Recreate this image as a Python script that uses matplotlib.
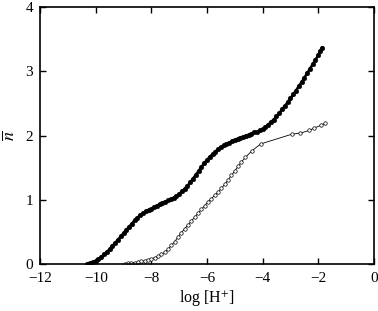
import numpy as np
import matplotlib
matplotlib.use("Agg")
import matplotlib.pyplot as plt

plt.rcParams['font.family'] = ['Liberation Serif', 'DejaVu Serif']
plt.rcParams['mathtext.fontset'] = 'stix'

# filled circles (dense series)
x_fill = [-10.3, -10.2, -10.1, -10.0, -9.9, -9.8, -9.7, -9.6, -9.5, -9.4, -9.3, -9.2,
          -9.1, -9.0, -8.9, -8.8, -8.7, -8.6, -8.5, -8.4, -8.3, -8.2, -8.1, -8.0,
          -7.9, -7.8, -7.7, -7.6, -7.5, -7.4, -7.3, -7.2, -7.1, -7.0, -6.9, -6.8,
          -6.7, -6.6, -6.5, -6.4, -6.3, -6.2, -6.1, -6.0, -5.9, -5.8, -5.7, -5.6,
          -5.5, -5.4, -5.3, -5.2, -5.1, -5.0, -4.9, -4.8, -4.7, -4.6, -4.5, -4.4,
          -4.3, -4.2, -4.1, -4.0, -3.9, -3.8, -3.7, -3.6, -3.5, -3.4, -3.3, -3.2,
          -3.1, -3.0, -2.9, -2.8, -2.7, -2.6, -2.5, -2.4, -2.3, -2.2, -2.1, -2.0,
          -1.93, -1.86]
y_fill = [0.00, 0.01, 0.03, 0.05, 0.08, 0.11, 0.15, 0.19, 0.23, 0.28, 0.33, 0.38,
          0.43, 0.48, 0.53, 0.58, 0.63, 0.68, 0.72, 0.76, 0.79, 0.82, 0.84, 0.86,
          0.89, 0.91, 0.93, 0.95, 0.97, 0.99, 1.01, 1.03, 1.06, 1.09, 1.13, 1.17,
          1.22, 1.27, 1.33, 1.39, 1.45, 1.51, 1.57, 1.62, 1.67, 1.71, 1.75, 1.79,
          1.82, 1.85, 1.87, 1.89, 1.91, 1.93, 1.95, 1.97, 1.98, 2.00, 2.01, 2.03,
          2.05, 2.06, 2.08, 2.10, 2.13, 2.17, 2.21, 2.25, 2.30, 2.35, 2.41, 2.46,
          2.52, 2.58, 2.64, 2.70, 2.77, 2.83, 2.90, 2.97, 3.04, 3.11, 3.18, 3.25,
          3.31, 3.37]

# open circles
x_open = [-8.96, -8.84, -8.72, -8.60, -8.48, -8.36, -8.24, -8.12, -8.00, -7.88,
          -7.76, -7.64, -7.52, -7.40, -7.28, -7.16, -7.04, -6.92, -6.80, -6.68,
          -6.56, -6.44, -6.32, -6.20, -6.08, -5.96, -5.84, -5.72, -5.60, -5.48,
          -5.36, -5.24, -5.12, -5.00, -4.88, -4.76, -4.62, -4.39, -4.07,
          -2.96, -2.64, -2.32, -2.14, -1.89, -1.75]
y_open = [0.00, 0.01, 0.02, 0.02, 0.03, 0.04, 0.05, 0.07, 0.08, 0.10,
          0.12, 0.15, 0.18, 0.23, 0.29, 0.35, 0.42, 0.49, 0.55, 0.61,
          0.67, 0.73, 0.79, 0.85, 0.91, 0.97, 1.02, 1.07, 1.12, 1.18,
          1.24, 1.31, 1.38, 1.45, 1.52, 1.59, 1.66, 1.76, 1.87,
          2.02, 2.04, 2.08, 2.12, 2.16, 2.19]

fig = plt.figure(figsize=(3.78, 3.11), dpi=100)
ax = fig.add_axes([0.106, 0.151, 0.883, 0.826])

ax.plot(x_fill, y_fill, color='black', lw=1.8, marker='o', ms=3.4,
        mfc='black', mec='black', mew=0.3)
ax.plot(x_open, y_open, color='black', lw=0.6, marker='o', ms=2.5,
        mfc='white', mec='black', mew=0.5)

ax.set_xlim(-12, 0)
ax.set_ylim(0, 4)
ax.set_xticks(np.arange(-12, 1, 2))
ax.set_yticks([0, 1, 2, 3, 4])
ax.tick_params(direction='in', length=4, width=1, top=True, right=True,
               labelsize=11)
ax.tick_params(axis='x', pad=6)
ax.tick_params(axis='y', pad=5)
for s in ax.spines.values():
    s.set_linewidth(1.2)

ax.set_xlabel('log [H$^{+}$]', fontsize=11.5, labelpad=2)
ax.set_ylabel(r'$\overline{n}$', fontsize=13, labelpad=5)

fig.savefig('out.png', dpi=100)
